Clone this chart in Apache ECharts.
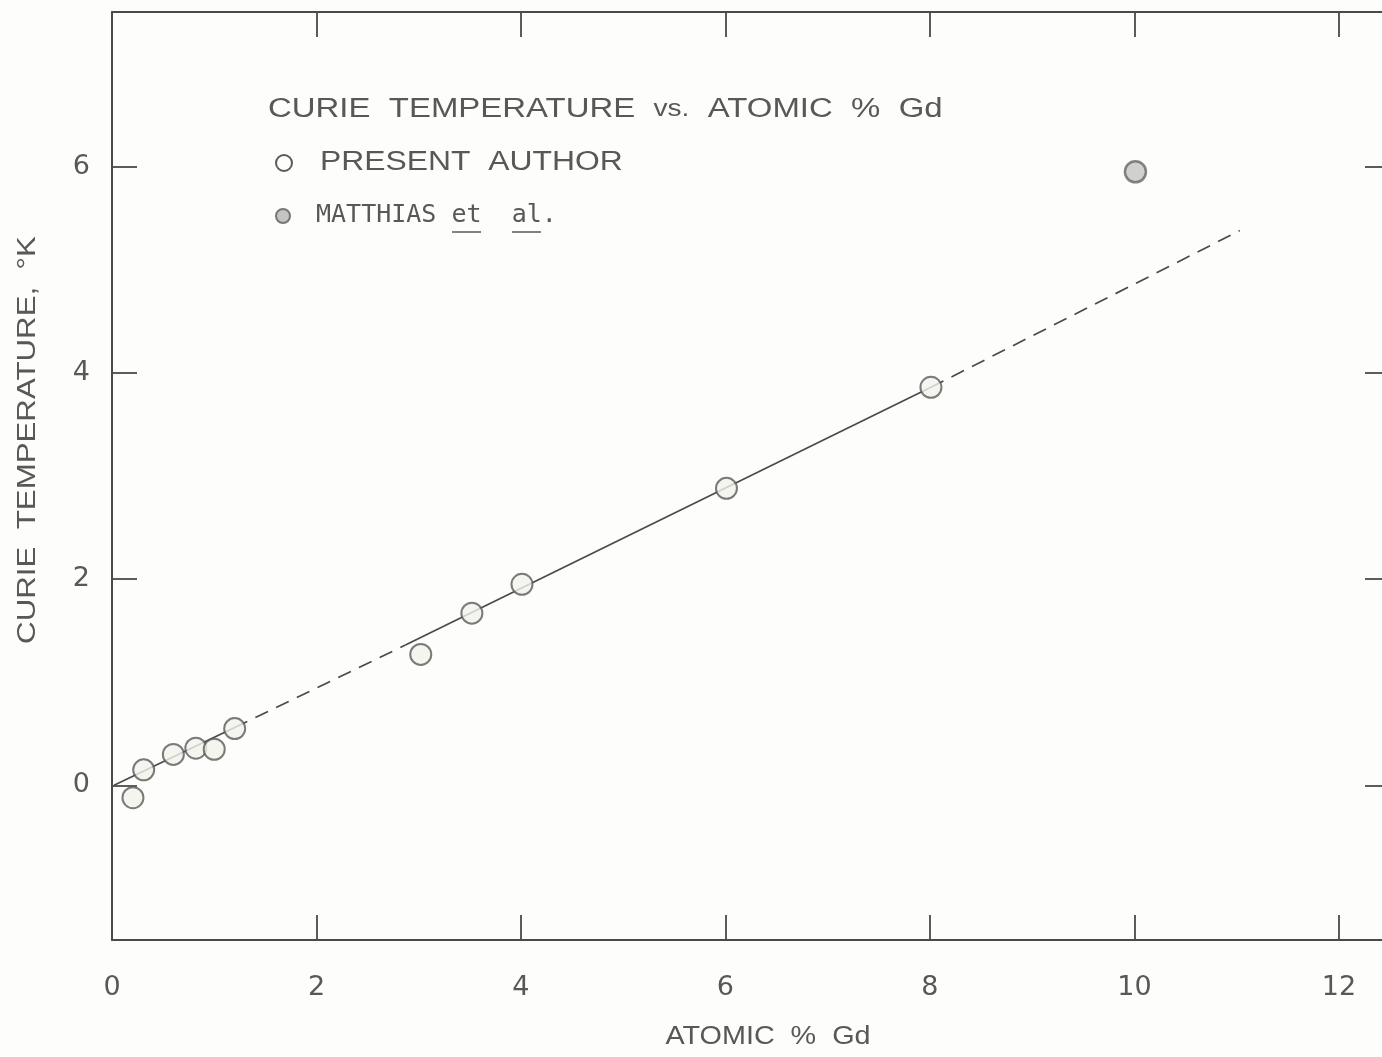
<!DOCTYPE html>
<html>
<head>
<meta charset="utf-8">
<script src="https://cdn.jsdelivr.net/npm/echarts@6/dist/echarts.min.js"></script>
<style>
  html, body { margin: 0; padding: 0; background: #fdfdfb; overflow: hidden; }
  #main { width: 1400px; height: 1057px; }
</style>
</head>
<body>
<div id="main"></div>
<script>
// values
var xTicks = [0, 2, 4, 6, 8, 10, 12];
var yTicks = [0, 2, 4, 6];
var presentAuthor = [
    [0.205, -0.12], [0.31, 0.15], [0.60, 0.30], [0.82, 0.36], [1.0, 0.35], [1.20, 0.55],
    [3.02, 1.27], [3.52, 1.67], [4.01, 1.95], [6.01, 2.88], [8.01, 3.86]
];
var matthias = [[10.01, 5.95]];
// fitted line, solid and dashed pieces
var fitSolidA = [[0.02, 0.0], [1.2, 0.56]];
var fitDashA = [[1.2, 0.56], [2.87, 1.36]];
var fitSolidB = [[2.87, 1.36], [8.01, 3.86]];
var fitDashB = [[8.01, 3.86], [11.03, 5.38]];

var ink = '#4a4a4a';
var txt = '#585858';
var font = '"DejaVu Sans", "Liberation Sans", sans-serif';
var lib = '"Liberation Sans", sans-serif';

var myChart = echarts.init(document.getElementById('main'));

var lineSeries = function (data, dashed) {
    return {
        type: 'line',
        data: data,
        symbol: 'none',
        silent: true,
        z: 1,
        lineStyle: { color: ink, width: 1.7, type: dashed ? [14, 9] : 'solid' }
    };
};

var frameAxis = function (pos, ticks) {
    return {
        axisLine: { onZero: false, lineStyle: { color: ink, width: 2 } },
        axisTick: { inside: true, length: 25, customValues: ticks, lineStyle: { color: ink, width: 1.8 } },
        splitLine: { show: false },
        position: pos
    };
};

var xBottom = frameAxis('bottom', [2, 4, 6, 8, 10, 12]);
xBottom.type = 'value'; xBottom.min = 0; xBottom.max = 12.5;
xBottom.axisLabel = { customValues: xTicks, margin: 34, color: txt, fontSize: 27, fontFamily: font };

var xTop = frameAxis('top', [2, 4, 6, 8, 10, 12]);
xTop.type = 'value'; xTop.min = 0; xTop.max = 12.5;
xTop.axisLabel = { show: false };

var yLeft = frameAxis('left', yTicks);
yLeft.type = 'value'; yLeft.min = -1.5; yLeft.max = 7.5;
yLeft.axisLabel = { customValues: yTicks, margin: 22, color: txt, fontSize: 27, fontFamily: font };

var yRight = frameAxis('right', yTicks);
yRight.type = 'value'; yRight.min = -1.5; yRight.max = 7.5;
yRight.axisLabel = { show: false };

var option = {
    backgroundColor: '#fdfdfb',
    animation: false,
    // the frame runs past the right edge of the photo, as in the scan
    grid: { left: 112, top: 12, right: 10, bottom: 117 },
    xAxis: [xBottom, xTop],
    yAxis: [yLeft, yRight],
    series: [
        lineSeries(fitSolidA, false),
        lineSeries(fitDashA, true),
        lineSeries(fitSolidB, false),
        lineSeries(fitDashB, true),
        {
            name: 'PRESENT AUTHOR',
            type: 'scatter',
            data: presentAuthor,
            symbol: 'circle',
            symbolSize: 21,
            z: 3,
            itemStyle: { color: '#f2f2ec', borderColor: '#5a5a5a', borderWidth: 2 }
        },
        {
            name: 'MATTHIAS et al.',
            type: 'scatter',
            data: matthias,
            symbol: 'circle',
            symbolSize: 21,
            z: 3,
            itemStyle: { color: '#c4c4c0', borderColor: '#666', borderWidth: 2.5 }
        }
    ],
    graphic: [
        // axis titles
        {
            type: 'text', x: 768, y: 1037, scaleX: 1.15, z: 10,
            style: { text: 'ATOMIC  %  Gd', fontSize: 25, fontFamily: lib, fill: txt, align: 'center', verticalAlign: 'middle' }
        },
        {
            type: 'text', x: 28, y: 440, rotation: Math.PI / 2, scaleX: 1.25, z: 10,
            style: { text: 'CURIE  TEMPERATURE,  °K', fontSize: 25, fontFamily: lib, fill: txt, align: 'center', verticalAlign: 'middle' }
        },
        // legend block
        {
            type: 'text', x: 268, y: 96, scaleX: 1.22, z: 10,
            style: {
                text: '{a|CURIE  TEMPERATURE  }{b|vs.}{a|  ATOMIC  %  Gd}',
                rich: {
                    a: { fontSize: 27, fontFamily: lib, fill: txt },
                    b: { fontSize: 23, fontFamily: lib, fill: txt }
                }
            }
        },
        {
            type: 'circle', z: 10,
            shape: { cx: 284, cy: 163, r: 8 },
            style: { fill: 'none', stroke: '#5a5a5a', lineWidth: 2 }
        },
        {
            type: 'text', x: 320, y: 149, scaleX: 1.18, z: 10,
            style: { text: 'PRESENT  AUTHOR', fontSize: 27, fontFamily: lib, fill: txt }
        },
        {
            type: 'circle', z: 10,
            shape: { cx: 283, cy: 216, r: 7 },
            style: { fill: '#c4c4c0', stroke: '#777', lineWidth: 2 }
        },
        {
            type: 'text', x: 316, y: 203, z: 10,
            style: { text: 'MATTHIAS et  al.', fontSize: 25, fontFamily: '"DejaVu Sans Mono", monospace', fill: txt }
        },
        {
            type: 'line', z: 10,
            shape: { x1: 452, y1: 232, x2: 481, y2: 232 },
            style: { stroke: txt, lineWidth: 1.5 }
        },
        {
            type: 'line', z: 10,
            shape: { x1: 512, y1: 232, x2: 541, y2: 232 },
            style: { stroke: txt, lineWidth: 1.5 }
        }
    ]
};

myChart.setOption(option);
</script>
</body>
</html>
